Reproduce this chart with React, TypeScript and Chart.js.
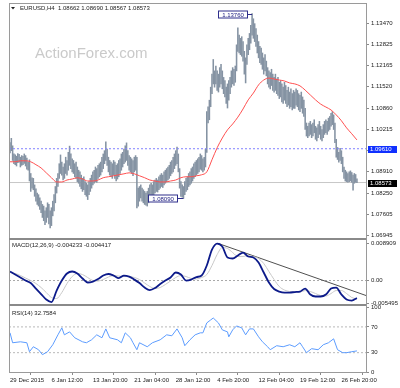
import React, { useEffect, useRef } from 'react';
import { Chart, registerables } from 'chart.js';

Chart.register(...registerables);

const FONT = '"Liberation Sans", Arial, sans-serif';

const symbolTitle = 'EURUSD,H4  1.08662 1.08690 1.08567 1.08573';
const macdTitle = 'MACD(12,26,9) -0.004233 -0.004417';
const rsiTitle = 'RSI(14) 32.7584';
const watermark = 'ActionForex.com';

const timeLabels = ['29 Dec 2015', '6 Jan 12:00', '13 Jan 20:00', '21 Jan 04:00', '28 Jan 12:00', '4 Feb 20:00', '12 Feb 04:00', '19 Feb 12:00', '26 Feb 20:00'];
const timeLabelBars = [0, 32, 64, 96, 128, 160, 192, 224, 256];

const highs = [
  1.0980, 1.0993, 1.0970, 1.0945, 1.0942, 1.0938, 1.0946, 1.0944, 1.0935, 1.0940,
  1.0938, 1.0945, 1.0940, 1.0932, 1.0920, 1.0927, 1.0885, 1.0872, 1.0870, 1.0850,
  1.0838, 1.0825, 1.0820, 1.0810, 1.0800, 1.0790, 1.0785, 1.0770, 1.0780, 1.0795,
  1.0790, 1.0770, 1.0780, 1.0800, 1.0820, 1.0845, 1.0870, 1.0885, 1.0915, 1.0942,
  1.0920, 1.0905, 1.0915, 1.0935, 1.0925, 1.0950, 1.0969, 1.0945, 1.0930, 1.0925,
  1.0915, 1.0920, 1.0905, 1.0895, 1.0890, 1.0880, 1.0870, 1.0875, 1.0860, 1.0855,
  1.0850, 1.0860, 1.0870, 1.0880, 1.0890, 1.0895, 1.0905, 1.0900, 1.0910, 1.0915,
  1.0920, 1.0935, 1.0945, 1.0955, 1.0982, 1.0960, 1.0935, 1.0925, 1.0920, 1.0915,
  1.0925, 1.0920, 1.0910, 1.0915, 1.0925, 1.0930, 1.0945, 1.0950, 1.0960, 1.0970,
  1.0979, 1.0955, 1.0940, 1.0935, 1.0930, 1.0925, 1.0935, 1.0940, 1.0935, 1.0840,
  1.0845, 1.0850, 1.0840, 1.0835, 1.0830, 1.0825, 1.0830, 1.0840, 1.0850, 1.0855,
  1.0850, 1.0860, 1.0865, 1.0870, 1.0865, 1.0875, 1.0880, 1.0885, 1.0880, 1.0890,
  1.0895, 1.0900, 1.0905, 1.0910, 1.0920, 1.0925, 1.0935, 1.0945, 1.0955, 1.0966,
  1.0945, 1.0900, 1.0860, 1.0850, 1.0845, 1.0860, 1.0870, 1.0875, 1.0885, 1.0890,
  1.0900, 1.0905, 1.0915, 1.0920, 1.0925, 1.0930, 1.0935, 1.0945, 1.0940, 1.0930,
  1.0935, 1.0960, 1.1075, 1.1090, 1.1110, 1.1150, 1.1190, 1.1235, 1.1200, 1.1215,
  1.1200, 1.1190, 1.1210, 1.1220, 1.1200, 1.1180, 1.1170, 1.1150, 1.1160, 1.1170,
  1.1180, 1.1200, 1.1210, 1.1205, 1.1215, 1.1280, 1.1332, 1.1310, 1.1300, 1.1305,
  1.1290, 1.1260, 1.1240, 1.1280, 1.1300, 1.1315, 1.1340, 1.1376, 1.1360, 1.1345,
  1.1330, 1.1310, 1.1290, 1.1275, 1.1270, 1.1255, 1.1240, 1.1250, 1.1230, 1.1210,
  1.1200, 1.1195, 1.1205, 1.1190, 1.1180, 1.1190, 1.1175, 1.1180, 1.1165, 1.1170,
  1.1160, 1.1150, 1.1165, 1.1155, 1.1140, 1.1150, 1.1135, 1.1145, 1.1130, 1.1140,
  1.1135, 1.1145, 1.1140, 1.1130, 1.1125, 1.1135, 1.1120, 1.1110, 1.1085, 1.1040,
  1.1030, 1.1040, 1.1045, 1.1035, 1.1040, 1.1050, 1.1030, 1.1025, 1.1035, 1.1045,
  1.1030, 1.1020, 1.1035, 1.1045, 1.1050, 1.1045, 1.1055, 1.1060, 1.1070, 1.1075,
  1.1065, 1.1040, 1.0990, 1.0965, 1.0950, 1.0962, 1.0955, 1.0935, 1.0905, 1.0895,
  1.0890, 1.0885, 1.0890, 1.0893, 1.0888, 1.0880, 1.0885, 1.0882, 1.0869
];

const lows = [
  1.0948, 1.0955, 1.0925, 1.0915, 1.0912, 1.0908, 1.0918, 1.0920, 1.0905, 1.0910,
  1.0912, 1.0916, 1.0908, 1.0898, 1.0895, 1.0862, 1.0830, 1.0840, 1.0835, 1.0815,
  1.0800, 1.0790, 1.0785, 1.0775, 1.0765, 1.0750, 1.0740, 1.0728, 1.0735, 1.0750,
  1.0730, 1.0718, 1.0725, 1.0755, 1.0770, 1.0795, 1.0825, 1.0845, 1.0870, 1.0885,
  1.0880, 1.0865, 1.0870, 1.0885, 1.0880, 1.0895, 1.0910, 1.0900, 1.0890, 1.0885,
  1.0875, 1.0870, 1.0860, 1.0855, 1.0845, 1.0838, 1.0830, 1.0835, 1.0820, 1.0815,
  1.0805, 1.0820, 1.0830, 1.0840, 1.0850, 1.0855, 1.0860, 1.0858, 1.0870, 1.0875,
  1.0880, 1.0890, 1.0900, 1.0915, 1.0925, 1.0910, 1.0890, 1.0880, 1.0875, 1.0870,
  1.0880, 1.0870, 1.0862, 1.0868, 1.0875, 1.0885, 1.0895, 1.0905, 1.0915, 1.0920,
  1.0925, 1.0910, 1.0895, 1.0890, 1.0885, 1.0878, 1.0890, 1.0895, 1.0779, 1.0785,
  1.0800, 1.0810, 1.0800, 1.0795, 1.0790, 1.0788, 1.0785, 1.0795, 1.0805, 1.0815,
  1.0812, 1.0820, 1.0825, 1.0830, 1.0828, 1.0835, 1.0840, 1.0845, 1.0842, 1.0850,
  1.0855, 1.0860, 1.0865, 1.0870, 1.0878, 1.0885, 1.0890, 1.0900, 1.0910, 1.0915,
  1.0890, 1.0840, 1.0815, 1.0812, 1.0809, 1.0820, 1.0830, 1.0835, 1.0845, 1.0850,
  1.0855, 1.0862, 1.0870, 1.0875, 1.0880, 1.0885, 1.0890, 1.0898, 1.0895, 1.0890,
  1.0895, 1.0905, 1.0950, 1.1040, 1.1050, 1.1090, 1.1130, 1.1160, 1.1150, 1.1160,
  1.1140, 1.1135, 1.1150, 1.1160, 1.1145, 1.1130, 1.1120, 1.1100, 1.1086, 1.1110,
  1.1130, 1.1150, 1.1160, 1.1155, 1.1165, 1.1200, 1.1260, 1.1255, 1.1250, 1.1245,
  1.1230, 1.1190, 1.1163, 1.1220, 1.1250, 1.1265, 1.1285, 1.1310, 1.1300, 1.1290,
  1.1275, 1.1255, 1.1240, 1.1225, 1.1220, 1.1205, 1.1190, 1.1200, 1.1185, 1.1160,
  1.1150, 1.1145, 1.1155, 1.1140, 1.1135, 1.1140, 1.1130, 1.1125, 1.1115, 1.1120,
  1.1105, 1.1100, 1.1110, 1.1100, 1.1090, 1.1095, 1.1085, 1.1090, 1.1080, 1.1085,
  1.1085, 1.1095, 1.1090, 1.1080, 1.1075, 1.1085, 1.1070, 1.1060, 1.1020, 1.1000,
  1.0995, 1.1000, 1.1005, 1.0995, 1.1000, 1.1010, 1.0990, 1.0985, 1.0995, 1.1005,
  1.0990, 1.0985, 1.0995, 1.1005, 1.1010, 1.1005, 1.1015, 1.1020, 1.1030, 1.1035,
  1.1020, 1.0980, 1.0935, 1.0928, 1.0920, 1.0925, 1.0915, 1.0890, 1.0870, 1.0862,
  1.0860, 1.0858, 1.0860, 1.0862, 1.0858, 1.0834, 1.0855, 1.0858, 1.0857
];

const priceTicks = [1.13470, 1.12825, 1.12165, 1.11520, 1.10860, 1.10215, 1.09555, 1.08910, 1.08250, 1.07605, 1.06945];
const macdTicks = [0.008909, 0, -0.005495];
const macdTickLabels = ['0.008909', '0.00', '-0.005495'];
const rsiTicks = [100, 70, 30, 0];
const rsiLevels = [70, 30];

const maStep = 4;
const maValues = [
  1.0921, 1.0921, 1.0924, 1.0924, 1.0921, 1.0912, 1.0902, 1.0887, 1.0872, 1.0859,
  1.0859, 1.0865, 1.0868, 1.0872, 1.0868, 1.0862, 1.0862, 1.0865, 1.0872, 1.0875,
  1.0878, 1.0881, 1.0884, 1.0887, 1.0884, 1.0878, 1.0872, 1.0865, 1.0862, 1.0859,
  1.0859, 1.0862, 1.0865, 1.0872, 1.0875, 1.0875, 1.0878, 1.0881, 1.0890, 1.0927,
  1.0964, 1.0994, 1.1019, 1.1037, 1.1058, 1.1083, 1.1111, 1.1132, 1.1157, 1.1172,
  1.1178, 1.1175, 1.1172, 1.1169, 1.1163, 1.1160, 1.1154, 1.1141, 1.1126, 1.1111,
  1.1098, 1.1089, 1.1080, 1.1065, 1.1047, 1.1025, 1.1007, 1.0988
];

const macdStep = 4;
const macdValues = [
  0.00217, 0.00144, 0.00072, 0, -0.00060, -0.00193, -0.00325, -0.00458, -0.00520, -0.00241,
  0, 0.00169, 0.00217, 0.00169, 0.00048, -0.00048, -0.00024, 0.00036, 0.00120, 0.00157,
  0.00120, 0.00060, 0.00120, 0.00096, 0.00024, -0.00060, -0.00169, -0.00229, -0.00181, -0.00084,
  0, 0.00072, 0.00193, 0.00144, 0, 0.00024, 0.00084, 0.00120, 0.00361, 0.00746,
  0.00891, 0.00819, 0.00554, 0.00530, 0.00602, 0.00674, 0.00578, 0.00554, 0.00433, 0.00193,
  -0.00048, -0.00205, -0.00265, -0.00289, -0.00289, -0.00277, -0.00265, -0.00193, -0.00337, -0.00385,
  -0.00385, -0.00337, -0.00193, -0.00169, -0.00337, -0.00458, -0.00482, -0.00423
];
const signalValues = [
  0.00193, 0.00169, 0.00120, 0.00060, 0, -0.00072, -0.00169, -0.00289, -0.00409, -0.00433,
  -0.00289, -0.00072, 0.00096, 0.00169, 0.00144, 0.00072, 0, -0.00012, 0.00024, 0.00084,
  0.00120, 0.00108, 0.00096, 0.00096, 0.00072, 0.00024, -0.00060, -0.00144, -0.00193, -0.00169,
  -0.00096, -0.00012, 0.00072, 0.00120, 0.00096, 0.00048, 0.00036, 0.00072, 0.00144, 0.00361,
  0.00626, 0.00795, 0.00771, 0.00674, 0.00578, 0.00578, 0.00602, 0.00578, 0.00530, 0.00409,
  0.00217, 0.00024, -0.00144, -0.00229, -0.00265, -0.00277, -0.00277, -0.00241, -0.00265, -0.00313,
  -0.00361, -0.00373, -0.00313, -0.00241, -0.00241, -0.00313, -0.00409, -0.00442
];

const rsiBars = [
  0, 2, 8, 13, 15, 18, 22, 25, 29, 33, 37, 40, 42, 46, 50, 56, 59, 63, 67, 71,
  74, 77, 83, 86, 89, 93, 95, 98, 100, 106, 110, 116, 121, 125, 129, 133, 135, 139, 143, 147,
  149, 152, 155, 157, 161, 164, 168, 169, 172, 175, 179, 182, 185, 188, 192, 195, 199, 201, 206, 211,
  216, 220, 224, 226, 229, 233, 238, 242, 246, 250, 253, 257, 260, 264, 268
];
const rsiValues = [
  60.8, 45.4, 46.9, 45.4, 31.5, 39.2, 34.6, 26.9, 31.5, 42.3, 57.7, 68.5, 57.7, 62.3, 53.1, 46.9, 45.4, 50, 57.7, 53.1,
  66.9, 53.1, 50, 45.4, 60.8, 53.1, 45.4, 34.6, 45.4, 39.2, 45.4, 50, 57.7, 56.2, 66.9, 53.1, 40.8, 50, 57.7, 60.8,
  60.8, 76.2, 80.8, 83.8, 76.2, 65.4, 62.3, 54.6, 65.4, 71.5, 68.5, 57.7, 66.9, 66.9, 54.6, 46.9, 39.2, 34.6, 40.8, 39.2,
  42.3, 39.2, 45.4, 39.2, 30, 36.2, 34.6, 42.3, 45.4, 51.5, 34.6, 30, 30, 31.5, 32.76
];

const trendBars = [161, 275];
const trendValues = [0.00891, -0.00361];
const levelPrice = 1.0961;
const lastPrice = 1.08573;
const markedHighBar = 187;
const markedLowBar = 134;

const X_MIN = -0.8;
const X_MAX = 275;

function hLine(v: number) {
  return [{ x: X_MIN, y: v }, { x: X_MAX, y: v }];
}

const overlayPlugin = {
  id: 'overlay',
  beforeDatasetsDraw(chart: any) {
    const { ctx, chartArea: ca } = chart;
    ctx.save();
    ctx.font = `15px ${FONT}`;
    ctx.fillStyle = '#cacaca';
    ctx.textAlign = 'left';
    ctx.textBaseline = 'alphabetic';
    ctx.fillText(watermark, ca.left + 26, ca.top + 55);
    ctx.restore();
  },
  afterDraw(chart: any) {
    const { ctx, chartArea: ca, scales } = chart;
    const xs = scales.x, ys = scales.y, ms = scales.macd, rs = scales.rsi;
    ctx.save();
    // frame
    ctx.strokeStyle = '#9a9a9a';
    ctx.lineWidth = 1;
    ctx.beginPath();
    ctx.moveTo(ca.left + 0.5, ca.top);
    ctx.lineTo(ca.left + 0.5, ca.bottom);
    ctx.moveTo(ca.left, ca.top + 0.5);
    ctx.lineTo(ca.right, ca.top + 0.5);
    ctx.stroke();
    ctx.fillStyle = '#8a8a8a';
    ctx.fillRect(ca.left, ys.bottom - 1, ca.right - ca.left, 2);
    ctx.fillRect(ca.left, ms.bottom - 1, ca.right - ca.left, 2);

    // titles
    ctx.font = `6px ${FONT}`;
    ctx.fillStyle = '#222';
    ctx.textAlign = 'left';
    ctx.textBaseline = 'middle';
    ctx.beginPath();
    ctx.moveTo(ca.left + 2, ca.top + 4);
    ctx.lineTo(ca.left + 6, ca.top + 4);
    ctx.lineTo(ca.left + 4, ca.top + 6.5);
    ctx.closePath();
    ctx.fill();
    ctx.fillText(symbolTitle, ca.left + 11, ca.top + 5);
    ctx.fillText(macdTitle, ca.left + 3, ms.top + 6);
    ctx.fillText(rsiTitle, ca.left + 3, rs.top + 8);

    // marked high / low tags
    const tag = (val: number, bar: number, gap: number) => {
      const px = xs.getPixelForValue(bar);
      const py = Math.round(ys.getPixelForValue(val)) + 0.5;
      const txt = val.toFixed(5);
      const w = Math.ceil(ctx.measureText(txt).width) + 7;
      const right = Math.round(px - gap) + 0.5;
      ctx.strokeStyle = '#2e2e8c';
      ctx.fillStyle = '#ffffff';
      ctx.fillRect(right - w, py - 3.5, w, 7);
      ctx.strokeRect(right - w, py - 3.5, w, 7);
      ctx.beginPath();
      ctx.moveTo(right, py);
      ctx.lineTo(px, py);
      ctx.stroke();
      ctx.fillStyle = '#1c1c80';
      ctx.textAlign = 'center';
      ctx.fillText(txt, right - w / 2, py + 0.5);
    };
    tag(highs[markedHighBar], markedHighBar, 5);
    tag(lows[markedLowBar], markedLowBar, 6);

    // right axis price tags
    const axisTag = (val: number, bg: string) => {
      const py = Math.round(ys.getPixelForValue(val));
      ctx.fillStyle = bg;
      ctx.fillRect(ca.right + 2, py - 3, 29, 7);
      ctx.fillStyle = '#ffffff';
      ctx.textAlign = 'left';
      ctx.fillText(val.toFixed(5), ca.right + 4, py + 0.5);
    };
    axisTag(levelPrice, '#1030ff');
    axisTag(lastPrice, '#000000');
    ctx.restore();
  }
};

function noPad(s: any) {
  s.paddingTop = 0;
  s.paddingBottom = 0;
  s.paddingLeft = 0;
  s.paddingRight = 0;
}

function yAxis(opts: any) {
  return {
    type: 'linear',
    position: 'right',
    stack: 'panels',
    beginAtZero: false,
    offset: false,
    grid: { drawOnChartArea: false, drawTicks: true, tickLength: 3, color: '#8a8a8a' },
    border: { display: true, color: '#9a9a9a' },
    afterFit: (s: any) => { s.width = 34; noPad(s); },
    ...opts,
    ticks: { autoSkip: false, padding: 2, color: '#222', font: { size: 6, family: FONT }, ...opts.ticks },
  };
}

export default function App() {
  const ref = useRef<HTMLCanvasElement | null>(null);

  useEffect(() => {
    if (!ref.current) return;
    const barData = highs.map((h, i) => ({ x: i, y: [lows[i], h] }));
    const maData = maValues.map((v, k) => ({ x: k * maStep, y: v }));
    const macdData = macdValues.map((v, k) => ({ x: k * macdStep, y: v }));
    const signalData = signalValues.map((v, k) => ({ x: k * macdStep, y: v }));
    const rsiData = rsiBars.map((b, k) => ({ x: b, y: rsiValues[k] }));
    const trendData = trendBars.map((b, k) => ({ x: b, y: trendValues[k] }));

    const line = (extra: any) => ({
      type: 'line',
      pointRadius: 0,
      borderWidth: 1,
      fill: false,
      tension: 0,
      ...extra,
    });

    const chart = new Chart(ref.current, {
      type: 'bar',
      data: {
        datasets: [
          { type: 'bar', data: barData, yAxisID: 'y', backgroundColor: '#8593a3', barThickness: 0.9, grouped: false, order: 5 } as any,
          line({ data: hLine(levelPrice), yAxisID: 'y', borderColor: '#8080ff', borderDash: [2, 2], order: 4 }),
          line({ data: hLine(lastPrice), yAxisID: 'y', borderColor: '#c8c8c8', order: 6 }),
          line({ data: maData, yAxisID: 'y', borderColor: '#ff5050', cubicInterpolationMode: 'monotone', order: 1 }),
          line({ data: hLine(0), yAxisID: 'macd', borderColor: '#a8a8a8', borderDash: [2, 2], order: 4 }),
          line({ data: trendData, yAxisID: 'macd', borderColor: '#505050', order: 3 }),
          line({ data: signalData, yAxisID: 'macd', borderColor: '#c8c8c8', cubicInterpolationMode: 'monotone', order: 2 }),
          line({ data: macdData, yAxisID: 'macd', borderColor: '#0c1a8a', borderWidth: 1.8, cubicInterpolationMode: 'monotone', order: 0 }),
          line({ data: hLine(rsiLevels[0]), yAxisID: 'rsi', borderColor: '#b8b8b8', borderDash: [2, 2], order: 4 }),
          line({ data: hLine(rsiLevels[1]), yAxisID: 'rsi', borderColor: '#b8b8b8', borderDash: [2, 2], order: 4 }),
          line({ data: rsiData, yAxisID: 'rsi', borderColor: '#5c9cff', order: 0 }),
        ] as any,
      },
      options: {
        animation: false,
        responsive: false,
        maintainAspectRatio: false,
        events: [],
        layout: { padding: { left: 9, top: 3, right: 0, bottom: 0 } },
        plugins: { legend: { display: false }, tooltip: { enabled: false }, title: { display: false } },
        scales: {
          x: {
            type: 'linear',
            min: X_MIN,
            max: X_MAX,
            offset: false,
            afterBuildTicks: (s: any) => { s.ticks = timeLabelBars.map((v) => ({ value: v })); },
            afterFit: (s: any) => { s.height = 16; noPad(s); },
            ticks: {
              autoSkip: false,
              maxRotation: 0,
              minRotation: 0,
              align: 'start',
              padding: 2,
              color: '#222',
              font: { size: 6, family: FONT },
              callback: (_v: any, i: number) => timeLabels[i],
            },
            grid: { drawOnChartArea: false, drawTicks: true, tickLength: 3, color: '#8a8a8a' },
            border: { display: true, color: '#9a9a9a' },
          },
          y: yAxis({
            min: 1.06839,
            max: 1.14084,
            stackWeight: 236,
            afterBuildTicks: (s: any) => { s.ticks = priceTicks.map((v) => ({ value: v })); },
            ticks: { callback: (v: any) => Number(v).toFixed(5) },
          }),
          macd: yAxis({
            min: -0.005893,
            max: 0.010,
            stackWeight: 66,
            afterBuildTicks: (s: any) => { s.ticks = macdTicks.map((v) => ({ value: v })); },
            ticks: { callback: (_v: any, i: number) => macdTickLabels[i] },
          }),
          rsi: yAxis({
            min: 0,
            max: 104,
            stackWeight: 67,
            afterBuildTicks: (s: any) => { s.ticks = rsiTicks.map((v) => ({ value: v })); },
            ticks: { callback: (v: any) => String(v) },
          }),
        } as any,
      },
      plugins: [overlayPlugin],
    });
    return () => chart.destroy();
  }, []);

  return (
    <div style={{ position: 'absolute', left: 0, top: 0, width: 400, height: 388, background: '#fff' }}>
      <canvas ref={ref} width={400} height={388} style={{ display: 'block' }} />
    </div>
  );
}
